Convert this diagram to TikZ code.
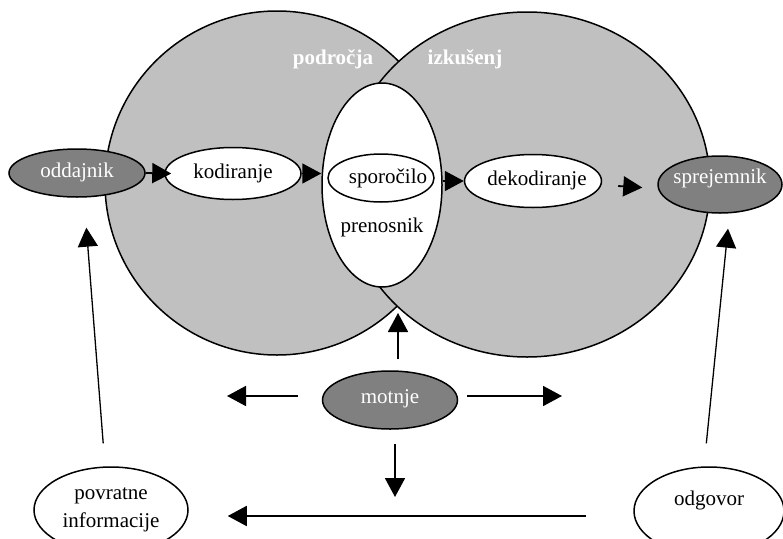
\documentclass[tikz,border=0pt]{standalone}
\usepackage{fontspec}
\setmainfont{Liberation Serif}
\usetikzlibrary{shapes.geometric,arrows.meta}
\definecolor{lgray}{HTML}{C0C0C0}
\definecolor{dgray}{HTML}{808080}
\newcommand{\ctxt}[2][0pt]{\makebox[0pt]{\raisebox{\dimexpr#1-5pt\relax}[0pt][0pt]{#2}}}
\begin{document}
\begin{tikzpicture}[x=1pt,y=-1pt,
  every node/.style={font=\fontsize{21}{28}\selectfont},
  outl/.style={draw=black, line width=1.5pt},
  darkell/.style={ellipse, outl, fill=dgray, text=white, inner sep=0pt},
  whiteell/.style={ellipse, outl, fill=white, inner sep=0pt},
  arr/.style={-{Triangle[length=19pt,width=20pt]}, line width=1.8pt},
  thinarr/.style={-{Triangle[length=19pt,width=20pt]}, line width=1.3pt},
  bigtitle/.style={text=white, font=\fontsize{21}{25}\selectfont\bfseries}
]
\useasboundingbox (0,0) rectangle (783,538);
% experience fields
\node[circle, outl, fill=lgray, minimum size=344pt, inner sep=0pt] (lc) at (277,183) {};
\node[ellipse, outl, fill=lgray, minimum width=366pt, minimum height=345pt, inner sep=0pt] (rc) at (527,184.5) {};
\node[bigtitle] (podr) at (333,59) {področja};
\node[bigtitle] (izk) at (465,59) {izkušenj};
% channel
\node[whiteell, minimum width=120pt, minimum height=204pt] (pren) at (382,185) {\ctxt[-42pt]{prenosnik}};
\node[whiteell, minimum width=106pt, minimum height=48pt] (spor) at (381,178) {\makebox[0pt]{\hspace*{14pt}\raisebox{-5pt}[0pt][0pt]{sporočilo}}};
% chain
\node[darkell, minimum width=136pt, minimum height=48pt] (odd) at (77,173) {\ctxt[1pt]{oddajnik}};
\node[whiteell, minimum width=136pt, minimum height=52pt] (kod) at (233,173.5) {\ctxt{kodiranje}};
\node[whiteell, minimum width=137pt, minimum height=53pt] (dek) at (533,181) {\makebox[0pt]{\hspace*{8pt}\raisebox{-4pt}[0pt][0pt]{dekodiranje}}};
\node[darkell, minimum width=124pt, minimum height=57pt] (spr) at (720,184.5) {\ctxt[6pt]{sprejemnik}};
\node[darkell, minimum width=135pt, minimum height=58pt] (mot) at (390,400) {\ctxt[2pt]{motnje}};
\node[whiteell, minimum width=154pt, minimum height=86pt, align=center] (pov) at (111,510) {povratne\\informacije};
\node[whiteell, minimum width=150pt, minimum height=88pt] (odg) at (709,511) {\ctxt[11pt]{odgovor}};
% connectors
\coordinate (lowx) at (398,313);
\coordinate (mleft) at (227,396);
\coordinate (mright) at (562,396);
\coordinate (mdown) at (395,497);
\draw[arr] (odd.east) -- ([xshift=7pt]kod.west);
\draw[arr] (kod.east) -- (kod.east -| pren.west);
\draw[arr] (pren.east |- dek.west) -- (dek.west);
\draw[arr, shorten <=16pt, shorten >=15pt] ([yshift=-4pt]dek.east) -- ([yshift=-4pt]spr.west);
\draw[arr] ([xshift=8pt,yshift=11pt]mot.north) -- (lowx);
\draw[arr] ([xshift=-24pt,yshift=4pt]mot.west) -- (mleft);
\draw[arr] ([xshift=9pt,yshift=4pt]mot.east) -- (mright);
\draw[arr] ([xshift=5pt,yshift=-14pt]mot.south) -- (mdown);
\draw[arr, shorten <=47pt, shorten >=39pt] ([yshift=-5pt]odg.west) -- ([yshift=-6pt]pov.east);
\draw[thinarr, shorten <=23pt, shorten >=30pt] ([xshift=-6pt]pov.north) -- ([xshift=7pt]odd.south);
\draw[thinarr, shorten <=23pt, shorten >=15pt] ([xshift=-5pt]odg.north) -- ([xshift=9.5pt]spr.south);
\end{tikzpicture}
\end{document}
